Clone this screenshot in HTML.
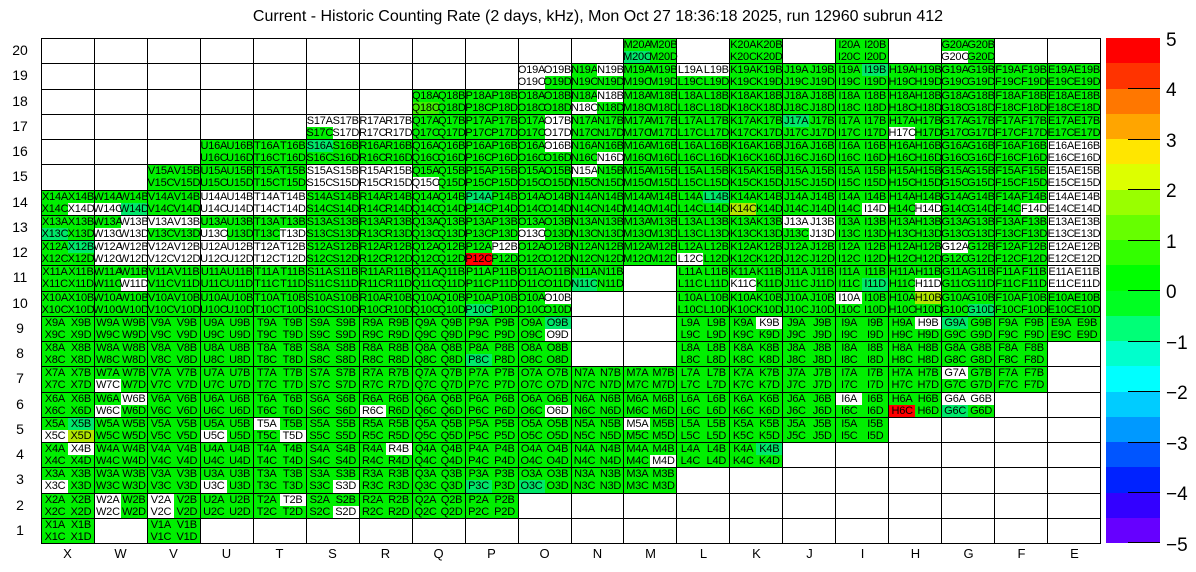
<!DOCTYPE html>
<html><head><meta charset="utf-8"><style>
html,body{margin:0;padding:0;background:#fff;width:1196px;height:572px;overflow:hidden;font-family:"Liberation Sans",Arial,sans-serif}
#t{position:absolute;left:0;top:8px;width:1196px;text-align:center;font-size:16px;color:#000}
#g{position:absolute;left:41px;top:38px;width:1060px;height:506px;display:grid;grid-template-columns:repeat(20,1fr);grid-template-rows:repeat(20,1fr);border-left:1px solid #000;border-top:1px solid #000;box-sizing:border-box}
b{display:grid;grid-template-columns:1fr 1fr;grid-template-rows:1fr 1fr;border-right:1px solid #000;border-bottom:1px solid #000;font-weight:normal;min-width:0;min-height:0;box-sizing:border-box}
i{font-style:normal;background:#00ef00;font-size:11px;text-align:center;white-space:nowrap;display:flex;align-items:center;justify-content:center;min-width:0;overflow:visible;letter-spacing:-0.2px}
i.w{background:#fff}i.t{background:#00e86a}i.y{background:#b0e600}i.r{background:#ff0000}i.l{background:#40ee00}
.rl{position:absolute;left:0;width:40px;text-align:center;font-size:14px}
.cl{position:absolute;top:546px;width:53px;text-align:center;font-size:13px}
#pal{position:absolute;left:1106px;top:38px;width:54px;height:505px}
#pal div{height:25.25px}
.tk{position:absolute;left:1128px;width:32px;height:1px;background:#000}
.pl{position:absolute;left:1166px;font-size:19px;line-height:19px}
</style></head><body>
<div id="t">Current - Historic Counting Rate (2 days, kHz), Mon Oct 27 18:36:18 2025, run 12960 subrun 412</div>
<div id="g">
<!-- row 20 -->
<b></b><b></b><b></b><b></b><b></b><b></b><b></b><b></b><b></b><b></b><b></b>
<b><i>M20A</i><i>M20B</i><i class="t">M20C</i><i>M20D</i></b><b></b>
<b><i>K20A</i><i>K20B</i><i>K20C</i><i>K20D</i></b><b></b>
<b><i>I20A</i><i>I20B</i><i>I20C</i><i>I20D</i></b><b></b>
<b><i>G20A</i><i>G20B</i><i class="w">G20C</i><i>G20D</i></b><b></b><b></b>
<!-- row 19 -->
<b></b><b></b><b></b><b></b><b></b><b></b><b></b><b></b><b></b>
<b><i class="w">O19A</i><i class="w">O19B</i><i class="w">O19C</i><i>O19D</i></b>
<b><i>N19A</i><i class="w">N19B</i><i>N19C</i><i>N19D</i></b>
<b><i>M19A</i><i>M19B</i><i>M19C</i><i>M19D</i></b>
<b><i class="w">L19A</i><i class="w">L19B</i><i>L19C</i><i>L19D</i></b>
<b><i>K19A</i><i>K19B</i><i>K19C</i><i>K19D</i></b>
<b><i>J19A</i><i>J19B</i><i>J19C</i><i>J19D</i></b>
<b><i>I19A</i><i class="t">I19B</i><i>I19C</i><i>I19D</i></b>
<b><i>H19A</i><i>H19B</i><i>H19C</i><i>H19D</i></b>
<b><i>G19A</i><i>G19B</i><i>G19C</i><i>G19D</i></b>
<b><i>F19A</i><i>F19B</i><i>F19C</i><i>F19D</i></b>
<b><i>E19A</i><i>E19B</i><i>E19C</i><i>E19D</i></b>
<!-- row 18 -->
<b></b><b></b><b></b><b></b><b></b><b></b><b></b>
<b><i>Q18A</i><i>Q18B</i><i class="l">Q18C</i><i>Q18D</i></b>
<b><i>P18A</i><i>P18B</i><i>P18C</i><i>P18D</i></b>
<b><i>O18A</i><i>O18B</i><i>O18C</i><i>O18D</i></b>
<b><i>N18A</i><i class="w">N18B</i><i class="w">N18C</i><i>N18D</i></b>
<b><i>M18A</i><i>M18B</i><i>M18C</i><i>M18D</i></b>
<b><i>L18A</i><i>L18B</i><i>L18C</i><i>L18D</i></b>
<b><i>K18A</i><i>K18B</i><i>K18C</i><i>K18D</i></b>
<b><i>J18A</i><i>J18B</i><i>J18C</i><i>J18D</i></b>
<b><i>I18A</i><i>I18B</i><i>I18C</i><i>I18D</i></b>
<b><i>H18A</i><i>H18B</i><i>H18C</i><i>H18D</i></b>
<b><i>G18A</i><i>G18B</i><i>G18C</i><i>G18D</i></b>
<b><i>F18A</i><i>F18B</i><i>F18C</i><i>F18D</i></b>
<b><i>E18A</i><i>E18B</i><i>E18C</i><i>E18D</i></b>
<!-- row 17 -->
<b></b><b></b><b></b><b></b><b></b>
<b><i class="w">S17A</i><i class="w">S17B</i><i>S17C</i><i class="w">S17D</i></b>
<b><i class="w">R17A</i><i class="w">R17B</i><i class="w">R17C</i><i class="w">R17D</i></b>
<b><i>Q17A</i><i>Q17B</i><i>Q17C</i><i>Q17D</i></b>
<b><i>P17A</i><i>P17B</i><i>P17C</i><i>P17D</i></b>
<b><i>O17A</i><i class="w">O17B</i><i>O17C</i><i class="w">O17D</i></b>
<b><i>N17A</i><i>N17B</i><i>N17C</i><i>N17D</i></b>
<b><i>M17A</i><i>M17B</i><i>M17C</i><i>M17D</i></b>
<b><i>L17A</i><i>L17B</i><i>L17C</i><i>L17D</i></b>
<b><i>K17A</i><i>K17B</i><i>K17C</i><i>K17D</i></b>
<b><i class="t">J17A</i><i>J17B</i><i>J17C</i><i>J17D</i></b>
<b><i>I17A</i><i>I17B</i><i>I17C</i><i>I17D</i></b>
<b><i>H17A</i><i>H17B</i><i class="w">H17C</i><i>H17D</i></b>
<b><i>G17A</i><i>G17B</i><i>G17C</i><i>G17D</i></b>
<b><i>F17A</i><i>F17B</i><i>F17C</i><i>F17D</i></b>
<b><i>E17A</i><i>E17B</i><i>E17C</i><i>E17D</i></b>
<!-- row 16 -->
<b></b><b></b><b></b>
<b><i>U16A</i><i>U16B</i><i>U16C</i><i>U16D</i></b>
<b><i>T16A</i><i>T16B</i><i>T16C</i><i>T16D</i></b>
<b><i class="t">S16A</i><i>S16B</i><i>S16C</i><i>S16D</i></b>
<b><i>R16A</i><i>R16B</i><i>R16C</i><i>R16D</i></b>
<b><i>Q16A</i><i>Q16B</i><i>Q16C</i><i>Q16D</i></b>
<b><i>P16A</i><i>P16B</i><i>P16C</i><i>P16D</i></b>
<b><i>O16A</i><i class="w">O16B</i><i>O16C</i><i>O16D</i></b>
<b><i>N16A</i><i>N16B</i><i>N16C</i><i class="w">N16D</i></b>
<b><i>M16A</i><i>M16B</i><i>M16C</i><i>M16D</i></b>
<b><i>L16A</i><i>L16B</i><i>L16C</i><i>L16D</i></b>
<b><i>K16A</i><i>K16B</i><i>K16C</i><i>K16D</i></b>
<b><i>J16A</i><i>J16B</i><i>J16C</i><i>J16D</i></b>
<b><i>I16A</i><i>I16B</i><i>I16C</i><i>I16D</i></b>
<b><i>H16A</i><i>H16B</i><i>H16C</i><i>H16D</i></b>
<b><i>G16A</i><i>G16B</i><i>G16C</i><i>G16D</i></b>
<b><i>F16A</i><i>F16B</i><i>F16C</i><i>F16D</i></b>
<b><i class="w">E16A</i><i class="w">E16B</i><i class="w">E16C</i><i class="w">E16D</i></b>
<!-- row 15 -->
<b></b><b></b>
<b><i>V15A</i><i>V15B</i><i>V15C</i><i>V15D</i></b>
<b><i>U15A</i><i>U15B</i><i>U15C</i><i>U15D</i></b>
<b><i>T15A</i><i>T15B</i><i>T15C</i><i>T15D</i></b>
<b><i class="w">S15A</i><i class="w">S15B</i><i class="w">S15C</i><i class="w">S15D</i></b>
<b><i class="w">R15A</i><i class="w">R15B</i><i class="w">R15C</i><i class="w">R15D</i></b>
<b><i>Q15A</i><i>Q15B</i><i class="w">Q15C</i><i>Q15D</i></b>
<b><i>P15A</i><i>P15B</i><i>P15C</i><i>P15D</i></b>
<b><i>O15A</i><i>O15B</i><i>O15C</i><i>O15D</i></b>
<b><i class="w">N15A</i><i>N15B</i><i>N15C</i><i>N15D</i></b>
<b><i>M15A</i><i>M15B</i><i>M15C</i><i>M15D</i></b>
<b><i>L15A</i><i>L15B</i><i>L15C</i><i>L15D</i></b>
<b><i>K15A</i><i>K15B</i><i>K15C</i><i>K15D</i></b>
<b><i>J15A</i><i>J15B</i><i>J15C</i><i>J15D</i></b>
<b><i>I15A</i><i>I15B</i><i>I15C</i><i>I15D</i></b>
<b><i>H15A</i><i>H15B</i><i>H15C</i><i>H15D</i></b>
<b><i>G15A</i><i>G15B</i><i>G15C</i><i>G15D</i></b>
<b><i>F15A</i><i>F15B</i><i>F15C</i><i>F15D</i></b>
<b><i class="w">E15A</i><i class="w">E15B</i><i class="w">E15C</i><i class="w">E15D</i></b>
<!-- row 14 -->
<b><i>X14A</i><i>X14B</i><i>X14C</i><i class="w">X14D</i></b>
<b><i>W14A</i><i>W14B</i><i class="w">W14C</i><i class="t">W14D</i></b>
<b><i>V14A</i><i>V14B</i><i>V14C</i><i>V14D</i></b>
<b><i class="w">U14A</i><i class="w">U14B</i><i class="w">U14C</i><i class="w">U14D</i></b>
<b><i class="w">T14A</i><i class="w">T14B</i><i class="w">T14C</i><i class="w">T14D</i></b>
<b><i>S14A</i><i>S14B</i><i>S14C</i><i>S14D</i></b>
<b><i>R14A</i><i>R14B</i><i>R14C</i><i>R14D</i></b>
<b><i>Q14A</i><i>Q14B</i><i>Q14C</i><i>Q14D</i></b>
<b><i class="t">P14A</i><i>P14B</i><i>P14C</i><i>P14D</i></b>
<b><i>O14A</i><i>O14B</i><i>O14C</i><i>O14D</i></b>
<b><i>N14A</i><i>N14B</i><i>N14C</i><i>N14D</i></b>
<b><i>M14A</i><i>M14B</i><i>M14C</i><i>M14D</i></b>
<b><i>L14A</i><i class="t">L14B</i><i>L14C</i><i>L14D</i></b>
<b><i>K14A</i><i>K14B</i><i class="y">K14C</i><i>K14D</i></b>
<b><i>J14A</i><i>J14B</i><i>J14C</i><i>J14D</i></b>
<b><i>I14A</i><i>I14B</i><i>I14C</i><i class="w">I14D</i></b>
<b><i>H14A</i><i>H14B</i><i>H14C</i><i class="w">H14D</i></b>
<b><i>G14A</i><i>G14B</i><i>G14C</i><i>G14D</i></b>
<b><i>F14A</i><i>F14B</i><i>F14C</i><i class="w">F14D</i></b>
<b><i class="w">E14A</i><i class="w">E14B</i><i class="w">E14C</i><i class="w">E14D</i></b>
<!-- row 13 -->
<b><i>X13A</i><i>X13B</i><i class="t">X13C</i><i>X13D</i></b>
<b><i>W13A</i><i class="w">W13B</i><i class="w">W13C</i><i class="w">W13D</i></b>
<b><i class="w">V13A</i><i class="w">V13B</i><i>V13C</i><i>V13D</i></b>
<b><i>U13A</i><i>U13B</i><i class="w">U13C</i><i>U13D</i></b>
<b><i>T13A</i><i>T13B</i><i>T13C</i><i class="w">T13D</i></b>
<b><i>S13A</i><i>S13B</i><i>S13C</i><i>S13D</i></b>
<b><i>R13A</i><i>R13B</i><i>R13C</i><i>R13D</i></b>
<b><i>Q13A</i><i>Q13B</i><i>Q13C</i><i>Q13D</i></b>
<b><i>P13A</i><i>P13B</i><i>P13C</i><i>P13D</i></b>
<b><i>O13A</i><i>O13B</i><i class="w">O13C</i><i>O13D</i></b>
<b><i>N13A</i><i>N13B</i><i>N13C</i><i>N13D</i></b>
<b><i>M13A</i><i>M13B</i><i>M13C</i><i>M13D</i></b>
<b><i>L13A</i><i>L13B</i><i>L13C</i><i>L13D</i></b>
<b><i>K13A</i><i>K13B</i><i>K13C</i><i>K13D</i></b>
<b><i class="w">J13A</i><i class="w">J13B</i><i>J13C</i><i class="w">J13D</i></b>
<b><i>I13A</i><i>I13B</i><i>I13C</i><i>I13D</i></b>
<b><i>H13A</i><i>H13B</i><i>H13C</i><i>H13D</i></b>
<b><i>G13A</i><i>G13B</i><i>G13C</i><i>G13D</i></b>
<b><i>F13A</i><i>F13B</i><i>F13C</i><i>F13D</i></b>
<b><i class="w">E13A</i><i class="w">E13B</i><i class="w">E13C</i><i class="w">E13D</i></b>
<!-- row 12 -->
<b><i>X12A</i><i class="t">X12B</i><i>X12C</i><i>X12D</i></b>
<b><i class="w">W12A</i><i class="w">W12B</i><i class="w">W12C</i><i class="w">W12D</i></b>
<b><i class="w">V12A</i><i class="w">V12B</i><i class="w">V12C</i><i class="w">V12D</i></b>
<b><i class="w">U12A</i><i class="w">U12B</i><i class="w">U12C</i><i class="w">U12D</i></b>
<b><i class="w">T12A</i><i class="w">T12B</i><i class="w">T12C</i><i class="w">T12D</i></b>
<b><i>S12A</i><i>S12B</i><i>S12C</i><i>S12D</i></b>
<b><i>R12A</i><i>R12B</i><i>R12C</i><i>R12D</i></b>
<b><i>Q12A</i><i>Q12B</i><i>Q12C</i><i>Q12D</i></b>
<b><i>P12A</i><i class="w">P12B</i><i class="r">P12C</i><i>P12D</i></b>
<b><i>O12A</i><i>O12B</i><i>O12C</i><i>O12D</i></b>
<b><i>N12A</i><i>N12B</i><i>N12C</i><i>N12D</i></b>
<b><i>M12A</i><i>M12B</i><i>M12C</i><i>M12D</i></b>
<b><i>L12A</i><i>L12B</i><i class="w">L12C</i><i>L12D</i></b>
<b><i>K12A</i><i>K12B</i><i>K12C</i><i>K12D</i></b>
<b><i>J12A</i><i>J12B</i><i>J12C</i><i>J12D</i></b>
<b><i>I12A</i><i>I12B</i><i>I12C</i><i>I12D</i></b>
<b><i>H12A</i><i>H12B</i><i>H12C</i><i>H12D</i></b>
<b><i class="w">G12A</i><i>G12B</i><i>G12C</i><i>G12D</i></b>
<b><i>F12A</i><i>F12B</i><i>F12C</i><i>F12D</i></b>
<b><i class="w">E12A</i><i class="w">E12B</i><i class="w">E12C</i><i class="w">E12D</i></b>
<!-- row 11 -->
<b><i>X11A</i><i>X11B</i><i>X11C</i><i>X11D</i></b>
<b><i>W11A</i><i>W11B</i><i>W11C</i><i class="w">W11D</i></b>
<b><i>V11A</i><i>V11B</i><i>V11C</i><i>V11D</i></b>
<b><i>U11A</i><i>U11B</i><i>U11C</i><i>U11D</i></b>
<b><i>T11A</i><i>T11B</i><i>T11C</i><i>T11D</i></b>
<b><i>S11A</i><i>S11B</i><i>S11C</i><i>S11D</i></b>
<b><i>R11A</i><i>R11B</i><i>R11C</i><i>R11D</i></b>
<b><i>Q11A</i><i>Q11B</i><i>Q11C</i><i>Q11D</i></b>
<b><i>P11A</i><i>P11B</i><i>P11C</i><i>P11D</i></b>
<b><i>O11A</i><i>O11B</i><i>O11C</i><i>O11D</i></b>
<b><i>N11A</i><i>N11B</i><i class="t">N11C</i><i>N11D</i></b>
<b></b>
<b><i>L11A</i><i>L11B</i><i>L11C</i><i>L11D</i></b>
<b><i>K11A</i><i>K11B</i><i class="w">K11C</i><i>K11D</i></b>
<b><i>J11A</i><i>J11B</i><i>J11C</i><i>J11D</i></b>
<b><i>I11A</i><i>I11B</i><i>I11C</i><i class="t">I11D</i></b>
<b><i>H11A</i><i>H11B</i><i>H11C</i><i class="w">H11D</i></b>
<b><i>G11A</i><i>G11B</i><i>G11C</i><i>G11D</i></b>
<b><i>F11A</i><i>F11B</i><i>F11C</i><i>F11D</i></b>
<b><i class="w">E11A</i><i class="w">E11B</i><i class="w">E11C</i><i class="w">E11D</i></b>
<!-- row 10 -->
<b><i>X10A</i><i>X10B</i><i>X10C</i><i>X10D</i></b>
<b><i>W10A</i><i>W10B</i><i>W10C</i><i>W10D</i></b>
<b><i>V10A</i><i>V10B</i><i>V10C</i><i>V10D</i></b>
<b><i>U10A</i><i>U10B</i><i>U10C</i><i>U10D</i></b>
<b><i>T10A</i><i>T10B</i><i>T10C</i><i>T10D</i></b>
<b><i>S10A</i><i>S10B</i><i>S10C</i><i>S10D</i></b>
<b><i>R10A</i><i>R10B</i><i>R10C</i><i>R10D</i></b>
<b><i>Q10A</i><i>Q10B</i><i>Q10C</i><i>Q10D</i></b>
<b><i>P10A</i><i>P10B</i><i class="t">P10C</i><i>P10D</i></b>
<b><i>O10A</i><i class="w">O10B</i><i>O10C</i><i>O10D</i></b>
<b></b><b></b>
<b><i>L10A</i><i>L10B</i><i>L10C</i><i>L10D</i></b>
<b><i>K10A</i><i>K10B</i><i>K10C</i><i>K10D</i></b>
<b><i>J10A</i><i>J10B</i><i>J10C</i><i>J10D</i></b>
<b><i class="w">I10A</i><i>I10B</i><i>I10C</i><i>I10D</i></b>
<b><i>H10A</i><i class="y">H10B</i><i>H10C</i><i>H10D</i></b>
<b><i>G10A</i><i>G10B</i><i>G10C</i><i class="t">G10D</i></b>
<b><i>F10A</i><i>F10B</i><i>F10C</i><i>F10D</i></b>
<b><i>E10A</i><i>E10B</i><i>E10C</i><i>E10D</i></b>
<!-- row 9 -->
<b><i>X9A</i><i>X9B</i><i>X9C</i><i>X9D</i></b>
<b><i>W9A</i><i>W9B</i><i>W9C</i><i>W9D</i></b>
<b><i>V9A</i><i>V9B</i><i>V9C</i><i>V9D</i></b>
<b><i>U9A</i><i>U9B</i><i>U9C</i><i>U9D</i></b>
<b><i>T9A</i><i>T9B</i><i>T9C</i><i>T9D</i></b>
<b><i>S9A</i><i>S9B</i><i>S9C</i><i>S9D</i></b>
<b><i>R9A</i><i>R9B</i><i>R9C</i><i>R9D</i></b>
<b><i>Q9A</i><i>Q9B</i><i>Q9C</i><i>Q9D</i></b>
<b><i>P9A</i><i>P9B</i><i>P9C</i><i>P9D</i></b>
<b><i>O9A</i><i class="t">O9B</i><i>O9C</i><i class="w">O9D</i></b>
<b></b><b></b>
<b><i>L9A</i><i>L9B</i><i>L9C</i><i>L9D</i></b>
<b><i>K9A</i><i class="w">K9B</i><i>K9C</i><i>K9D</i></b>
<b><i>J9A</i><i>J9B</i><i>J9C</i><i>J9D</i></b>
<b><i>I9A</i><i>I9B</i><i>I9C</i><i>I9D</i></b>
<b><i>H9A</i><i class="w">H9B</i><i>H9C</i><i>H9D</i></b>
<b><i class="t">G9A</i><i>G9B</i><i>G9C</i><i>G9D</i></b>
<b><i>F9A</i><i>F9B</i><i>F9C</i><i>F9D</i></b>
<b><i>E9A</i><i>E9B</i><i>E9C</i><i>E9D</i></b>
<!-- row 8 -->
<b><i>X8A</i><i>X8B</i><i>X8C</i><i>X8D</i></b>
<b><i>W8A</i><i>W8B</i><i>W8C</i><i>W8D</i></b>
<b><i>V8A</i><i>V8B</i><i>V8C</i><i>V8D</i></b>
<b><i>U8A</i><i>U8B</i><i>U8C</i><i>U8D</i></b>
<b><i>T8A</i><i>T8B</i><i>T8C</i><i>T8D</i></b>
<b><i>S8A</i><i>S8B</i><i>S8C</i><i>S8D</i></b>
<b><i>R8A</i><i>R8B</i><i>R8C</i><i>R8D</i></b>
<b><i>Q8A</i><i>Q8B</i><i>Q8C</i><i>Q8D</i></b>
<b><i>P8A</i><i>P8B</i><i class="t">P8C</i><i>P8D</i></b>
<b><i>O8A</i><i>O8B</i><i>O8C</i><i>O8D</i></b>
<b></b><b></b>
<b><i>L8A</i><i>L8B</i><i>L8C</i><i>L8D</i></b>
<b><i>K8A</i><i>K8B</i><i>K8C</i><i>K8D</i></b>
<b><i>J8A</i><i>J8B</i><i>J8C</i><i>J8D</i></b>
<b><i>I8A</i><i>I8B</i><i>I8C</i><i>I8D</i></b>
<b><i>H8A</i><i>H8B</i><i>H8C</i><i>H8D</i></b>
<b><i>G8A</i><i>G8B</i><i>G8C</i><i>G8D</i></b>
<b><i>F8A</i><i>F8B</i><i>F8C</i><i>F8D</i></b>
<b></b>
<!-- row 7 -->
<b><i>X7A</i><i>X7B</i><i>X7C</i><i>X7D</i></b>
<b><i>W7A</i><i>W7B</i><i class="w">W7C</i><i>W7D</i></b>
<b><i>V7A</i><i>V7B</i><i>V7C</i><i>V7D</i></b>
<b><i>U7A</i><i>U7B</i><i>U7C</i><i>U7D</i></b>
<b><i>T7A</i><i>T7B</i><i>T7C</i><i>T7D</i></b>
<b><i>S7A</i><i>S7B</i><i>S7C</i><i>S7D</i></b>
<b><i>R7A</i><i>R7B</i><i>R7C</i><i>R7D</i></b>
<b><i>Q7A</i><i>Q7B</i><i>Q7C</i><i>Q7D</i></b>
<b><i>P7A</i><i>P7B</i><i>P7C</i><i>P7D</i></b>
<b><i>O7A</i><i>O7B</i><i>O7C</i><i>O7D</i></b>
<b><i>N7A</i><i>N7B</i><i>N7C</i><i>N7D</i></b>
<b><i>M7A</i><i>M7B</i><i>M7C</i><i>M7D</i></b>
<b><i>L7A</i><i>L7B</i><i>L7C</i><i>L7D</i></b>
<b><i>K7A</i><i>K7B</i><i>K7C</i><i>K7D</i></b>
<b><i>J7A</i><i>J7B</i><i>J7C</i><i>J7D</i></b>
<b><i>I7A</i><i>I7B</i><i>I7C</i><i>I7D</i></b>
<b><i>H7A</i><i>H7B</i><i>H7C</i><i>H7D</i></b>
<b><i class="w">G7A</i><i>G7B</i><i>G7C</i><i>G7D</i></b>
<b><i>F7A</i><i>F7B</i><i>F7C</i><i>F7D</i></b>
<b></b>
<!-- row 6 -->
<b><i>X6A</i><i>X6B</i><i>X6C</i><i>X6D</i></b>
<b><i>W6A</i><i class="w">W6B</i><i class="w">W6C</i><i>W6D</i></b>
<b><i>V6A</i><i>V6B</i><i>V6C</i><i>V6D</i></b>
<b><i>U6A</i><i>U6B</i><i>U6C</i><i>U6D</i></b>
<b><i>T6A</i><i>T6B</i><i>T6C</i><i>T6D</i></b>
<b><i>S6A</i><i>S6B</i><i>S6C</i><i>S6D</i></b>
<b><i>R6A</i><i>R6B</i><i class="w">R6C</i><i>R6D</i></b>
<b><i>Q6A</i><i>Q6B</i><i>Q6C</i><i>Q6D</i></b>
<b><i>P6A</i><i>P6B</i><i>P6C</i><i>P6D</i></b>
<b><i>O6A</i><i>O6B</i><i>O6C</i><i class="w">O6D</i></b>
<b><i>N6A</i><i>N6B</i><i>N6C</i><i>N6D</i></b>
<b><i>M6A</i><i>M6B</i><i>M6C</i><i>M6D</i></b>
<b><i>L6A</i><i>L6B</i><i>L6C</i><i>L6D</i></b>
<b><i>K6A</i><i>K6B</i><i>K6C</i><i>K6D</i></b>
<b><i>J6A</i><i>J6B</i><i>J6C</i><i>J6D</i></b>
<b><i class="w">I6A</i><i>I6B</i><i>I6C</i><i>I6D</i></b>
<b><i>H6A</i><i>H6B</i><i class="r">H6C</i><i>H6D</i></b>
<b><i class="w">G6A</i><i class="w">G6B</i><i class="t">G6C</i><i>G6D</i></b>
<b></b><b></b>
<!-- row 5 -->
<b><i>X5A</i><i class="t">X5B</i><i class="w">X5C</i><i class="y">X5D</i></b>
<b><i>W5A</i><i>W5B</i><i>W5C</i><i>W5D</i></b>
<b><i>V5A</i><i>V5B</i><i>V5C</i><i>V5D</i></b>
<b><i>U5A</i><i>U5B</i><i class="w">U5C</i><i>U5D</i></b>
<b><i class="w">T5A</i><i>T5B</i><i>T5C</i><i class="w">T5D</i></b>
<b><i>S5A</i><i>S5B</i><i>S5C</i><i>S5D</i></b>
<b><i>R5A</i><i>R5B</i><i>R5C</i><i>R5D</i></b>
<b><i>Q5A</i><i>Q5B</i><i>Q5C</i><i>Q5D</i></b>
<b><i>P5A</i><i>P5B</i><i>P5C</i><i>P5D</i></b>
<b><i>O5A</i><i>O5B</i><i>O5C</i><i>O5D</i></b>
<b><i>N5A</i><i>N5B</i><i>N5C</i><i>N5D</i></b>
<b><i class="w">M5A</i><i>M5B</i><i>M5C</i><i>M5D</i></b>
<b><i>L5A</i><i>L5B</i><i>L5C</i><i>L5D</i></b>
<b><i>K5A</i><i>K5B</i><i>K5C</i><i>K5D</i></b>
<b><i>J5A</i><i>J5B</i><i>J5C</i><i>J5D</i></b>
<b><i>I5A</i><i>I5B</i><i>I5C</i><i>I5D</i></b>
<b></b><b></b><b></b><b></b>
<!-- row 4 -->
<b><i>X4A</i><i class="w">X4B</i><i>X4C</i><i>X4D</i></b>
<b><i>W4A</i><i>W4B</i><i>W4C</i><i>W4D</i></b>
<b><i>V4A</i><i>V4B</i><i>V4C</i><i>V4D</i></b>
<b><i>U4A</i><i>U4B</i><i>U4C</i><i>U4D</i></b>
<b><i>T4A</i><i>T4B</i><i>T4C</i><i>T4D</i></b>
<b><i>S4A</i><i>S4B</i><i>S4C</i><i>S4D</i></b>
<b><i>R4A</i><i class="w">R4B</i><i>R4C</i><i>R4D</i></b>
<b><i>Q4A</i><i>Q4B</i><i>Q4C</i><i>Q4D</i></b>
<b><i>P4A</i><i>P4B</i><i>P4C</i><i>P4D</i></b>
<b><i>O4A</i><i>O4B</i><i>O4C</i><i>O4D</i></b>
<b><i>N4A</i><i>N4B</i><i>N4C</i><i>N4D</i></b>
<b><i>M4A</i><i>M4B</i><i>M4C</i><i class="w">M4D</i></b>
<b><i>L4A</i><i>L4B</i><i>L4C</i><i>L4D</i></b>
<b><i>K4A</i><i class="t">K4B</i><i>K4C</i><i>K4D</i></b>
<b></b><b></b><b></b><b></b><b></b><b></b>
<!-- row 3 -->
<b><i>X3A</i><i>X3B</i><i class="w">X3C</i><i>X3D</i></b>
<b><i>W3A</i><i>W3B</i><i>W3C</i><i>W3D</i></b>
<b><i>V3A</i><i>V3B</i><i>V3C</i><i>V3D</i></b>
<b><i>U3A</i><i>U3B</i><i class="w">U3C</i><i>U3D</i></b>
<b><i>T3A</i><i>T3B</i><i>T3C</i><i>T3D</i></b>
<b><i>S3A</i><i>S3B</i><i>S3C</i><i class="w">S3D</i></b>
<b><i>R3A</i><i>R3B</i><i>R3C</i><i>R3D</i></b>
<b><i>Q3A</i><i>Q3B</i><i>Q3C</i><i>Q3D</i></b>
<b><i>P3A</i><i>P3B</i><i class="t">P3C</i><i>P3D</i></b>
<b><i>O3A</i><i>O3B</i><i class="t">O3C</i><i>O3D</i></b>
<b><i>N3A</i><i>N3B</i><i>N3C</i><i>N3D</i></b>
<b><i>M3A</i><i>M3B</i><i>M3C</i><i>M3D</i></b>
<b></b><b></b><b></b><b></b><b></b><b></b><b></b><b></b>
<!-- row 2 -->
<b><i>X2A</i><i>X2B</i><i>X2C</i><i>X2D</i></b>
<b><i class="w">W2A</i><i>W2B</i><i class="w">W2C</i><i>W2D</i></b>
<b><i class="w">V2A</i><i>V2B</i><i class="w">V2C</i><i>V2D</i></b>
<b><i>U2A</i><i>U2B</i><i>U2C</i><i>U2D</i></b>
<b><i>T2A</i><i class="w">T2B</i><i>T2C</i><i>T2D</i></b>
<b><i>S2A</i><i>S2B</i><i>S2C</i><i class="w">S2D</i></b>
<b><i>R2A</i><i>R2B</i><i>R2C</i><i>R2D</i></b>
<b><i>Q2A</i><i>Q2B</i><i>Q2C</i><i>Q2D</i></b>
<b><i>P2A</i><i>P2B</i><i>P2C</i><i>P2D</i></b>
<b></b><b></b><b></b><b></b><b></b><b></b><b></b><b></b><b></b><b></b><b></b>
<!-- row 1 -->
<b><i>X1A</i><i>X1B</i><i>X1C</i><i>X1D</i></b>
<b></b>
<b><i>V1A</i><i>V1B</i><i>V1C</i><i>V1D</i></b>
<b></b><b></b><b></b><b></b><b></b><b></b><b></b><b></b><b></b><b></b><b></b><b></b><b></b><b></b><b></b><b></b><b></b>
</div>

<div class="rl" style="top:42px">20</div><div class="rl" style="top:67px">19</div><div class="rl" style="top:93px">18</div><div class="rl" style="top:118px">17</div><div class="rl" style="top:143px">16</div><div class="rl" style="top:168px">15</div><div class="rl" style="top:194px">14</div><div class="rl" style="top:219px">13</div><div class="rl" style="top:244px">12</div><div class="rl" style="top:269px">11</div><div class="rl" style="top:295px">10</div><div class="rl" style="top:320px">9</div><div class="rl" style="top:345px">8</div><div class="rl" style="top:370px">7</div><div class="rl" style="top:396px">6</div><div class="rl" style="top:421px">5</div><div class="rl" style="top:446px">4</div><div class="rl" style="top:471px">3</div><div class="rl" style="top:497px">2</div><div class="rl" style="top:522px">1</div>

<div class="cl" style="left:41px">X</div><div class="cl" style="left:94px">W</div><div class="cl" style="left:147px">V</div><div class="cl" style="left:200px">U</div><div class="cl" style="left:253px">T</div><div class="cl" style="left:306px">S</div><div class="cl" style="left:359px">R</div><div class="cl" style="left:412px">Q</div><div class="cl" style="left:465px">P</div><div class="cl" style="left:518px">O</div><div class="cl" style="left:571px">N</div><div class="cl" style="left:624px">M</div><div class="cl" style="left:677px">L</div><div class="cl" style="left:730px">K</div><div class="cl" style="left:783px">J</div><div class="cl" style="left:836px">I</div><div class="cl" style="left:889px">H</div><div class="cl" style="left:942px">G</div><div class="cl" style="left:995px">F</div><div class="cl" style="left:1048px">E</div>

<div id="pal">
<div style="background:#ff0000"></div><div style="background:#ff3300"></div><div style="background:#ff7700"></div><div style="background:#ffa500"></div><div style="background:#ffe600"></div><div style="background:#ddff00"></div><div style="background:#99ff00"></div><div style="background:#66ff00"></div><div style="background:#33ff00"></div><div style="background:#00ff00"></div><div style="background:#00ff22"></div><div style="background:#00ff77"></div><div style="background:#00ffcc"></div><div style="background:#00ffff"></div><div style="background:#00ccff"></div><div style="background:#0099ff"></div><div style="background:#0055ff"></div><div style="background:#0022ff"></div><div style="background:#3300ff"></div><div style="background:#6600ff"></div>
</div>
<div class="tk" style="top:88px"></div><div class="tk" style="top:139px"></div><div class="tk" style="top:189px"></div><div class="tk" style="top:240px"></div><div class="tk" style="top:290px"></div><div class="tk" style="top:341px"></div><div class="tk" style="top:391px"></div><div class="tk" style="top:442px"></div><div class="tk" style="top:492px"></div><div class="tk" style="top:542px"></div>
<div class="pl" style="top:31px">5</div><div class="pl" style="top:81px">4</div><div class="pl" style="top:132px">3</div><div class="pl" style="top:182px">2</div><div class="pl" style="top:233px">1</div><div class="pl" style="top:283px">0</div><div class="pl" style="top:334px">−1</div><div class="pl" style="top:384px">−2</div><div class="pl" style="top:435px">−3</div><div class="pl" style="top:485px">−4</div><div class="pl" style="top:536px">−5</div>
</body></html>
